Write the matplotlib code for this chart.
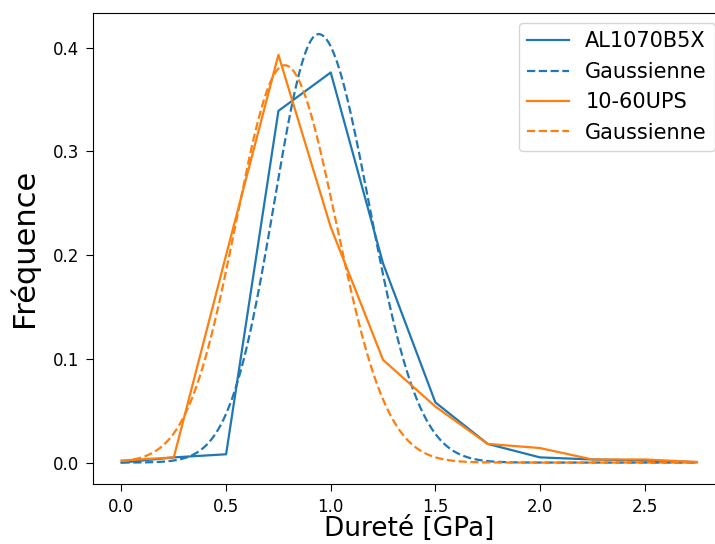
import numpy as np
import matplotlib.pyplot as plt

# centres des classes (GPa)
durete = [0.0, 0.25, 0.5, 0.75, 1.0, 1.25, 1.5, 1.75, 2.0, 2.25, 2.5, 2.75]

# fréquences mesurées
freq_al1070 = [0.000, 0.005, 0.008, 0.339, 0.376, 0.192, 0.058, 0.018, 0.005, 0.003, 0.002, 0.0005]
freq_1060ups = [0.002, 0.005, 0.200, 0.393, 0.227, 0.099, 0.054, 0.018, 0.014, 0.003, 0.003, 0.0005]

# courbes ajustées : amplitude, centre, largeur à gauche / à droite
amp_al, mu_al, sig_g_al, sig_d_al = 0.413, 0.942, 0.212, 0.240
amp_ups, mu_ups, sig_g_ups, sig_d_ups = 0.383, 0.780, 0.232, 0.245


def gauss(x, amp, mu, sig_g, sig_d):
    sig = np.where(x < mu, sig_g, sig_d)
    return amp * np.exp(-(x - mu) ** 2 / (2 * sig ** 2))


xg = np.linspace(durete[0], durete[-1], 400)

fig = plt.figure(figsize=(7.15, 5.44), dpi=100)
ax = fig.add_axes([92.7 / 715, 60 / 544, 633 / 715, 471.3 / 544])

ax.plot(durete, freq_al1070, color='C0', lw=1.6, label='AL1070B5X')
ax.plot(xg, gauss(xg, amp_al, mu_al, sig_g_al, sig_d_al), '--', color='C0', lw=1.6, label='Gaussienne')
ax.plot(durete, freq_1060ups, color='C1', lw=1.6, label='10-60UPS')
ax.plot(xg, gauss(xg, amp_ups, mu_ups, sig_g_ups, sig_d_ups), '--', color='C1', lw=1.6, label='Gaussienne')

ax.set_xticks([0.0, 0.5, 1.0, 1.5, 2.0, 2.5])
ax.set_yticks([0.0, 0.1, 0.2, 0.3, 0.4])
ax.tick_params(labelsize=12, length=5, pad=5)

ax.set_xlabel('Dureté [GPa]', fontsize=19, labelpad=0)
ax.set_ylabel('Fréquence', fontsize=22, labelpad=10)

ax.legend(loc='upper right', fontsize=15)

fig.savefig('out.png', dpi=100)
